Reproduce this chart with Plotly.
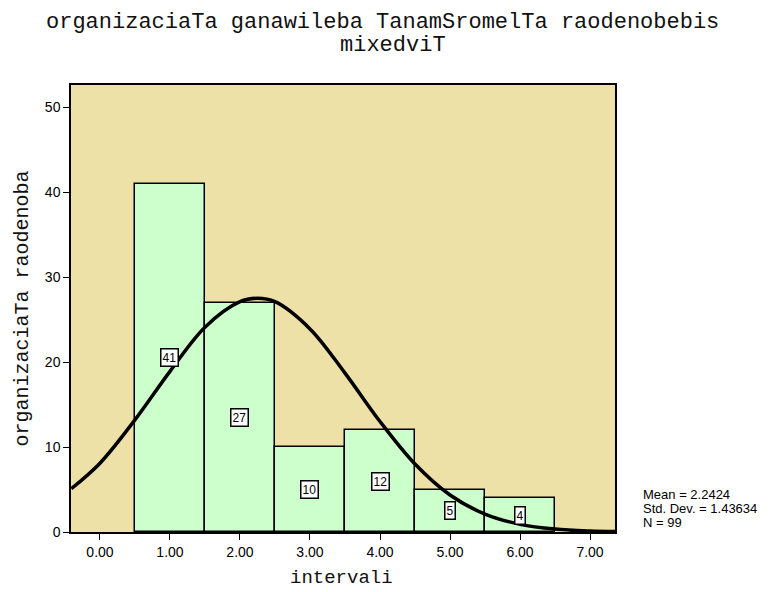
import plotly.graph_objects as go

## Data
bin_centers = [1, 2, 3, 4, 5, 6]
counts = [41, 27, 10, 12, 5, 4]

# normal curve
curve_x = [-0.41, 0.0, 0.5, 1.0, 1.5, 2.0, 2.25, 2.5, 3.0, 3.5, 4.0, 4.5, 5.0, 5.5, 6.0, 6.5, 7.0, 7.36]
curve_y = [5.1, 8.1, 13.2, 18.9, 24.1, 27.1, 27.5, 27.1, 23.9, 18.7, 13.0, 8.0, 4.35, 2.1, 0.9, 0.34, 0.11, 0.05]

x_ticks = [0, 1, 2, 3, 4, 5, 6, 7]
y_ticks = [0, 10, 20, 30, 40, 50]

title_line1 = "organizaciaTa ganawileba TanamSromelTa raodenobebis"
title_line2 = "mixedviT"
x_title = "intervali"
y_title = "organizaciaTa raodenoba"
stats_lines = ["Mean = 2.2424", "Std. Dev. = 1.43634", "N = 99"]

mono = "Liberation Mono"
sans = "Liberation Sans, Arial"

## Plot
fig = go.Figure()
fig.add_trace(go.Bar(x=bin_centers, y=counts, width=1,
                     marker=dict(color="#CCFFCC", line=dict(color="black", width=1.5)),
                     showlegend=False, hoverinfo="skip"))
fig.add_trace(go.Scatter(x=curve_x, y=curve_y, mode="lines", line_shape="spline",
                         line=dict(color="black", width=3.5), showlegend=False))

# count labels in the middle of each bar
for xc, c in zip(bin_centers, counts):
    fig.add_annotation(x=xc, y=c / 2, text=str(c), showarrow=False,
                       font=dict(family=sans, size=12, color="black"),
                       bgcolor="white", bordercolor="black", borderwidth=1.5, borderpad=1)

# summary statistics, one line each for tight spacing
for i, line in enumerate(stats_lines):
    fig.add_annotation(xref="paper", yref="paper", x=1.05, y=0.0828 - i * 0.0313,
                       xanchor="left", yanchor="middle", text=line, showarrow=False,
                       borderpad=0, font=dict(family=sans, size=13, color="black"))

# titles placed as annotations
fig.add_annotation(xref="paper", yref="paper", x=0.572, y=1.139, xanchor="center", yanchor="middle",
                   text=title_line1, showarrow=False, borderpad=0,
                   font=dict(family=mono, size=22, color="#111111"))
fig.add_annotation(xref="paper", yref="paper", x=0.592, y=1.089, xanchor="center", yanchor="middle",
                   text=title_line2, showarrow=False, borderpad=0,
                   font=dict(family=mono, size=22, color="#111111"))
fig.add_annotation(xref="paper", yref="paper", x=0.498, y=-0.103, xanchor="center", yanchor="middle",
                   text=x_title, showarrow=False, borderpad=0,
                   font=dict(family=mono, size=19, color="#111111"))
fig.add_annotation(xref="paper", yref="paper", x=-0.090, y=0.5, xanchor="center", yanchor="middle",
                   text=y_title, showarrow=False, textangle=-90, borderpad=0,
                   font=dict(family=mono, size=20, color="#111111"))

fig.update_layout(
    width=754, height=584,
    margin=dict(l=63, r=147, t=77, b=60),
    paper_bgcolor="white", plot_bgcolor="#EDE1A8",
    bargap=0,
    xaxis=dict(range=[-0.414, 7.357], tickvals=x_ticks, tickformat=".2f",
               ticks="outside", ticklen=6, tickcolor="black",
               showline=True, linecolor="black", linewidth=1.5, mirror=True,
               showgrid=False, zeroline=False, automargin=False,
               tickfont=dict(family=sans, size=14, color="black")),
    yaxis=dict(range=[0, 52.6], tickvals=y_ticks,
               ticks="outside", ticklen=6, tickcolor="black",
               showline=True, linecolor="black", linewidth=1.5, mirror=True,
               showgrid=False, zeroline=False, automargin=False,
               tickfont=dict(family=sans, size=14, color="black")),
)

fig.write_html("out.html")
